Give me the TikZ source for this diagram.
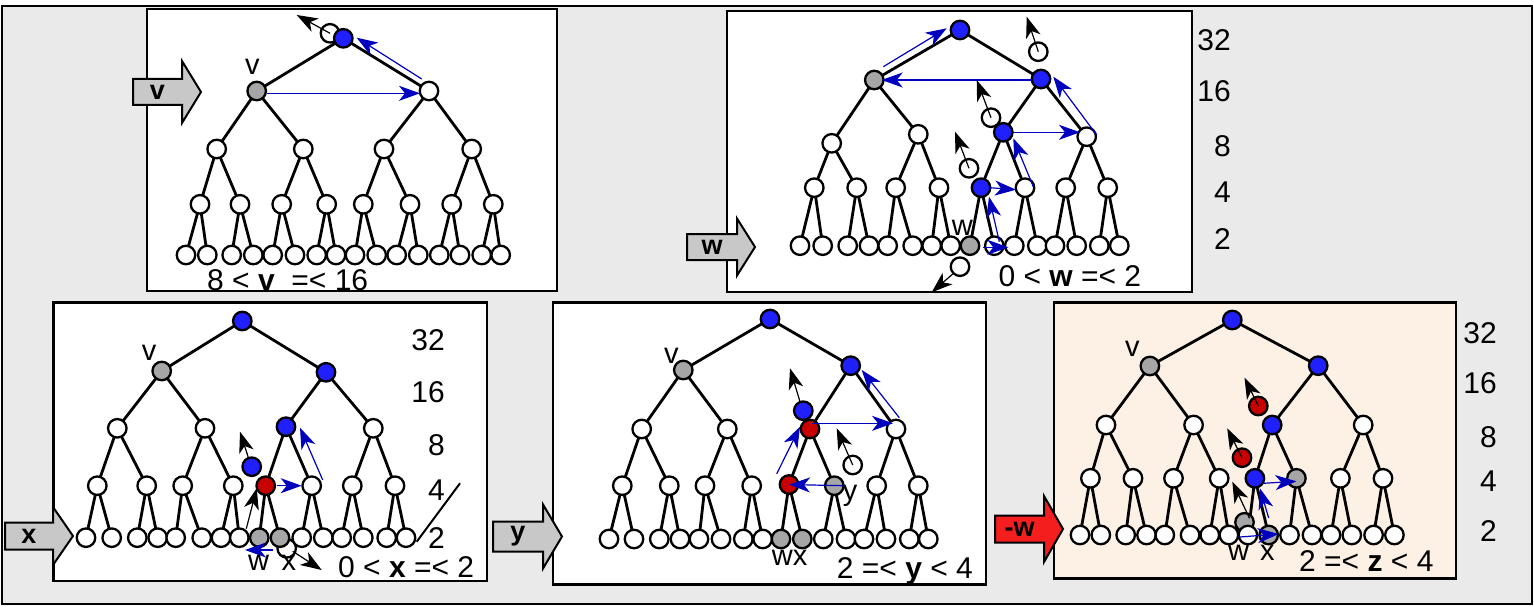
\documentclass[tikz,border=0pt]{standalone}
\usepackage{fontspec}
\setmainfont{Liberation Sans}
\usetikzlibrary{arrows.meta}
\pgfdeclarelayer{back}
\pgfdeclarelayer{edges}
\pgfsetlayers{back,edges,main}

\definecolor{nodeblue}{RGB}{32,32,255}
\definecolor{nodered}{RGB}{200,0,0}
\definecolor{nodegray}{RGB}{166,166,166}
\definecolor{arrowblue}{RGB}{0,0,190}
\definecolor{framegray}{RGB}{234,234,234}
\definecolor{peach}{RGB}{253,240,228}
\definecolor{blockgray}{RGB}{200,200,200}
\definecolor{blockred}{RGB}{245,30,30}

\tikzset{
  tn/.style={circle, draw=black, line width=2.3pt, fill=white, minimum size=18.5pt, inner sep=0pt},
  bn/.style={tn, fill=nodeblue},
  rn/.style={tn, fill=nodered},
  gn/.style={tn, fill=nodegray},
  treeedge/.style={line width=2.8pt},
  tipshape/.style={-{Stealth[length=21pt,width=15pt,inset=6pt]}},
  barrow/.style={draw=arrowblue, line width=1.2pt, tipshape},
  karrow/.style={draw=black, line width=1.2pt, tipshape},
  panelbox/.style={draw=black, line width=2.4pt, fill=white},
  lbl/.style={inner sep=0pt, anchor=base west, font=\fontsize{29}{34}\selectfont},
  numtxt/.style={inner sep=0pt, anchor=base east, font=\fontsize{30}{36}\selectfont},
  rangetxt/.style={inner sep=0pt, anchor=base west, font=\fontsize{30}{36}\selectfont},
  blockline/.style={draw=black, line width=2pt, line join=miter},
  blocklbl/.style={inner sep=0pt, font=\fontsize{27}{30}\selectfont\bfseries},
}

% complete binary tree of 31 nodes in heap order: list of x/y/style
\newcommand\heaptree[2]{%
  \foreach \x/\y/\s [count=\i] in {#2} {\node[\s] (#1-\i) at (\x,\y) {};}
  \begin{pgfonlayer}{edges}
    \foreach \i [evaluate=\i as \p using {int(\i/2)}] in {2,...,31}
      \draw[treeedge] (#1-\p.center) -- (#1-\i.center);
  \end{pgfonlayer}
}

% block arrow: name, left x, head start x, tip x, centre y, half body, half head, fill, label
\newcommand\blockarrow[9]{%
  \draw[blockline, fill=#8] (#2,{#5-#6}) -- (#3,{#5-#6}) -- (#3,{#5-#7}) -- (#4,#5)
    -- (#3,{#5+#7}) -- (#3,{#5+#6}) -- (#2,{#5+#6}) -- cycle;
  \node[blocklbl] (#1) at ({(#2+#3)/2},#5) {#9};
}

\begin{document}
\begin{tikzpicture}[x=1pt, y=-1pt]
\useasboundingbox (0,0) rectangle (1534,607);

\begin{pgfonlayer}{back}
  \draw[line width=2pt, fill=framegray] (2,6) rectangle (1532,604);
  \draw[panelbox] (147,9) rectangle (557,291);
  \draw[panelbox] (727,11) rectangle (1192,292);
  \draw[panelbox] (53.3,302.3) rectangle (486.7,581);
  \draw[panelbox] (552.7,302.3) rectangle (986,584.3);
  \draw[panelbox, fill=peach] (1054,302.6) rectangle (1456,578.5);
\end{pgfonlayer}

% ---------- step v ----------
\node[tn] (XA1) at (330,33.3) {};
\heaptree{A}{343.3/38.3/bn, 256.7/91/gn, 429/91/tn,
  216.7/149/tn, 303.3/149/tn, 384/149/tn, 471.7/149/tn,
  200/204.3/tn, 240/204.3/tn, 281.7/204.3/tn, 326.7/204.3/tn, 363.3/204.3/tn, 410/204.3/tn, 451.7/204.3/tn, 493.3/204.3/tn,
  186/255/tn, 207.3/255/tn, 231.7/255/tn, 253.3/255/tn, 272.7/255/tn, 295/255/tn, 316.7/255/tn, 336/255/tn,
  355/255/tn, 376.7/255/tn, 396.7/255/tn, 418.3/255/tn, 439.3/255/tn, 460/255/tn, 481.7/255/tn, 500.7/255/tn}
\coordinate (KA1) at (296.7,15);
\draw[karrow] (XA1.center) -- (KA1);
\draw[barrow] ([shift={(-7.3,-12)}]A-3.center) -- ([shift={(13.4,-0.6)}]A-1.center);
\draw[barrow] ([shift={(10,2.3)}]A-2.center) -- ([shift={(-9,2.3)}]A-3.center);
\node[lbl] (LA1) at (245,75) {v};
\node[rangetxt] (RA) at (207,290) {8 < \textbf{v}\ \ =< 16};
\blockarrow{BA}{133}{182}{201}{92}{13}{31}{blockgray}{v}

% ---------- step w ----------
\node[tn] (XB1) at (1038.3,51.7) {};
\node[tn] (XB2) at (991,117.7) {};
\node[tn] (XB3) at (969,168.3) {};
\node[tn] (XB4) at (960,266.7) {};
\heaptree{B}{960/30/bn, 874.3/80/gn, 1041/79/bn,
  831.7/143.3/tn, 918.3/134.3/tn, 1003.3/132.3/bn, 1086.7/136.7/tn,
  814.3/187.7/tn, 856.7/187.7/tn, 895.7/187.7/tn, 939/187.7/tn, 981/187.7/bn, 1025/187.7/tn, 1065.7/187.7/tn, 1107.7/187.7/tn,
  800/245.7/tn, 822.7/245.7/tn, 847.7/245.7/tn, 869/245.7/tn, 887.7/245.7/tn, 912.7/245.7/tn, 931.7/245.7/tn, 950.7/245.7/tn,
  970/245.7/gn, 994.3/245.7/tn, 1014.3/245.7/tn, 1037.3/245.7/tn, 1055/245.7/tn, 1076.7/245.7/tn, 1099.3/245.7/tn, 1119.3/245.7/tn}
\coordinate (KB1) at (1026.7,16.7);
\coordinate (KB2) at (976.7,80);
\coordinate (KB3) at (955,131.7);
\coordinate (KB4) at (931.7,292.3);
\draw[karrow] (XB1.center) -- (KB1);
\draw[karrow] (XB2.center) -- (KB2);
\draw[karrow] (XB3.center) -- (KB3);
\draw[karrow] (XB4.225) -- (KB4);
\draw[barrow] ([shift={(9,-13.3)}]B-2.center) -- ([shift={(-13.3,-1.7)}]B-1.center);
\draw[barrow] ([shift={(-9.3,1)}]B-3.center) -- ([shift={(7.4,0)}]B-2.center);
\draw[barrow] ([shift={(10,-1.7)}]B-7.center) -- ([shift={(12.3,-2.3)}]B-3.center);
\draw[barrow] ([shift={(10,0)}]B-6.center) -- ([shift={(-6.7,-4.4)}]B-7.center);
\draw[barrow] ([shift={(8.3,-1)}]B-13.center) -- ([shift={(10,6)}]B-6.center);
\draw[barrow] ([shift={(9,0)}]B-12.center) -- ([shift={(-9,2)}]B-13.center);
\draw[barrow] ([shift={(5,-4)}]B-25.center) -- ([shift={(8,9)}]B-12.center);
\draw[barrow] ([shift={(13,1.6)}]B-24.center) -- ([shift={(-6,1.6)}]B-26.center);
\node[lbl] (LB1) at (951.7,235) {w};
\node[rangetxt] (RB) at (998.3,286.7) {0 < \textbf{w} =< 2};
\node[numtxt] (NB1) at (1231,51) {32};
\node[numtxt] (NB2) at (1231,102) {16};
\node[numtxt] (NB3) at (1231,157) {8};
\node[numtxt] (NB4) at (1231,202) {4};
\node[numtxt] (NB5) at (1231,249) {2};
\blockarrow{BB}{687}{737}{755}{247}{13}{28.5}{blockgray}{w}

% ---------- step x ----------
\node[bn] (XC1) at (251.7,466.7) {};
\node[tn] (XC2) at (286.7,548.3) {};
\heaptree{C}{242.3/321/bn, 161.7/371/gn, 326/372.3/bn,
  117.3/428.3/tn, 205/428.3/tn, 286/426.7/bn, 373.3/428.3/tn,
  97.3/485.7/tn, 146.7/485.7/tn, 182.7/485.7/tn, 233.3/485.7/tn, 265.7/485.7/rn, 311.7/485.7/tn, 352.3/485.7/tn, 395/485.7/tn,
  86/537.7/tn, 111.7/537.7/tn, 137.3/537.7/tn, 157.7/537.7/tn, 175.7/537.7/tn, 201.7/537.7/tn, 221/537.7/tn, 239.3/537.7/tn,
  259.3/537.7/gn, 280/537.7/gn, 301.7/537.7/tn, 323.3/537.7/tn, 341.7/537.7/tn, 363.3/537.7/tn, 386.7/537.7/tn, 406/537.7/tn}
\coordinate (KC1) at (240,431.7);
\coordinate (KC2) at (321.7,570);
\draw[karrow] (XC1.110) -- (KC1);
\draw[karrow] ([shift={(7,-9)}]C-23.center) -- ([shift={(-9,2.6)}]C-12.center);
\draw[karrow] ([shift={(6,3)}]XC2.center) -- (KC2);
\draw[barrow] ([shift={(-6.7,12.3)}]C-25.center) -- ([shift={(-14.3,12.3)}]C-24.center);
\draw[barrow] ([shift={(11,0)}]C-12.center) -- ([shift={(-10,0)}]C-13.center);
\draw[barrow] ([shift={(11,-5.7)}]C-13.center) -- ([shift={(14,1)}]C-6.center);
\node[lbl] (LC1) at (141.7,360) {v};
\node[lbl] (LC2) at (248,570) {w};
\node[lbl] (LC3) at (281.5,570) {x};
\node[rangetxt] (RC) at (338,577) {0 < \textbf{x} =< 2};
\node[numtxt] (NC1) at (445,350) {32};
\node[numtxt] (NC2) at (445,402) {16};
\node[numtxt] (NC3) at (445,455) {8};
\node[numtxt] (NC4) at (445,500) {4};
\node[numtxt] (NC5) at (445,548) {2};
\draw[line width=2pt] (460,483.3) -- (416.7,541.7);
\blockarrow{BC}{5}{53}{73}{536}{13.5}{29}{blockgray}{x}

% ---------- step y ----------
\node[bn] (XD1) at (803.3,410.7) {};
\node[tn] (XD2) at (852.7,465) {};
\heaptree{D}{770/319/bn, 683.3/370/gn, 850.7/365.7/bn,
  641.7/429/tn, 727.3/429/tn, 810/429/rn, 896/429/tn,
  622.3/485.7/tn, 669.3/485.7/tn, 705/485.7/tn, 751.7/485.7/tn, 789/484.5/rn, 834.3/485.7/gn, 876.7/485.7/tn, 918.3/485.7/tn,
  609/539/tn, 634/539/tn, 659.3/539/tn, 680/539/tn, 699/539/tn, 721/539/tn, 743.3/539/tn, 762.7/539/tn,
  781/539/gn, 802.3/539/gn, 823.3/539/tn, 846/539/tn, 864/539/tn, 886/539/tn, 909.3/539/tn, 928.3/539/tn}
\coordinate (KD1) at (790,368.3);
\coordinate (KD2) at (836.7,428.3);
\draw[karrow] (XD1.110) -- (KD1);
\draw[karrow] (XD2.center) -- (KD2);
\draw[barrow] ([shift={(-12.3,-10.7)}]D-12.center) -- ([shift={(-10,-2.3)}]D-6.center);
\draw[barrow] ([shift={(2,-5.7)}]D-6.center) -- ([shift={(-3,-5.7)}]D-7.center);
\draw[barrow] ([shift={(3.3,-11.3)}]D-7.center) -- ([shift={(11,4.3)}]D-3.center);
\draw[barrow] ([shift={(9,0)}]D-13.center) -- (D-12.center);
\node[lbl] (LD1) at (664,363.3) {v};
\node[lbl] (LD2) at (842.7,500) {y};
\node[lbl] (LD3) at (771.7,565) {wx};
\node[rangetxt] (RD) at (836.7,578.3) {2 =< \textbf{y} < 4};
\blockarrow{BD}{493}{543}{562}{536.5}{15}{32}{blockgray}{y}

% ---------- step -w ----------
\node[rn] (XE1) at (1258.3,406) {};
\node[rn] (XE2) at (1242,457.7) {};
\node[gn] (XE3) at (1244.5,522.3) {};
\heaptree{E}{1232.3/320/bn, 1149.9/366/gn, 1318.2/365.7/bn,
  1106/425/tn, 1193.6/425/tn, 1272.2/425/bn, 1363.2/425/tn,
  1090.4/478.3/tn, 1133/478.3/tn, 1173.5/478.3/tn, 1219.2/478.3/tn, 1254.9/478.3/bn, 1296.4/478.3/gn, 1340.4/478.3/tn, 1383/478.3/tn,
  1080/535/tn, 1100.8/535/tn, 1125.7/535/tn, 1146.5/535/tn, 1164.8/535/tn, 1190.1/535/tn, 1209.8/535/tn, 1228.9/535/tn,
  1247.9/535/tn, 1268.7/535/gn, 1289.5/535/tn, 1312/535/tn, 1331/535/tn, 1351.8/535/tn, 1373.6/535/tn, 1394.4/535/tn}
\coordinate (KE1) at (1244.5,377.7);
\coordinate (KE2) at (1227.2,428.3);
\coordinate (KE3) at (1232.3,481.7);
\draw[karrow] (XE1.center) -- (KE1);
\draw[karrow] (XE2.center) -- (KE2);
\draw[karrow] ([shift={(5,-4)}]XE3.center) -- (KE3);
\draw[barrow] ([shift={(0,-17)}]E-25.center) -- ([shift={(5,10)}]E-12.center);
\draw[barrow] ([shift={(8.5,5)}]E-12.center) -- ([shift={(0,3)}]E-13.center);
\draw[barrow] ([shift={(-8,2)}]E-24.center) -- ([shift={(10,-1)}]E-25.center);
\node[lbl] (LE1) at (1125,356.7) {v};
\node[lbl] (LE2) at (1228,560) {w};
\node[lbl] (LE3) at (1260,560) {x};
\node[rangetxt] (RE) at (1299,571.7) {2 =< \textbf{z} < 4};
\node[numtxt] (NE1) at (1497,343.3) {32};
\node[numtxt] (NE2) at (1497,393.3) {16};
\node[numtxt] (NE3) at (1497,447.7) {8};
\node[numtxt] (NE4) at (1497,491.7) {4};
\node[numtxt] (NE5) at (1497,541) {2};
\blockarrow{BE}{995}{1044}{1063}{529}{13.5}{33}{blockred}{-w}
\end{tikzpicture}
\end{document}
